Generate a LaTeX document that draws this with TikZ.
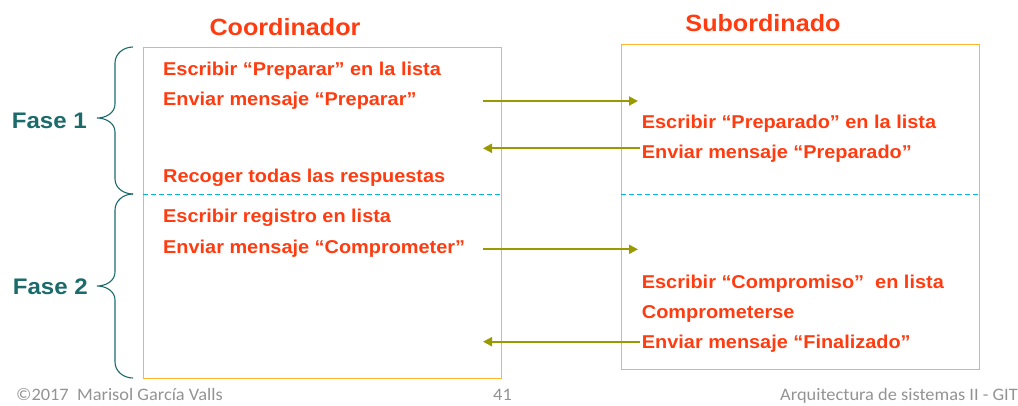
\documentclass[tikz,border=0pt]{standalone}
\usepackage{fontspec}
\setmainfont{Liberation Sans}[FakeStretch=1.07]
\newfontfamily\piefont{Carlito}[FakeStretch=1.05]
\usetikzlibrary{arrows.meta}

\definecolor{rojotxt}{HTML}{FF3B0F}
\definecolor{naranja}{HTML}{FFB52E}
\definecolor{cian}{HTML}{00B4E6}
\definecolor{oliva}{HTML}{999900}
\definecolor{verdeazul}{HTML}{1B6B6B}
\definecolor{gris}{HTML}{939393}

\tikzset{
  paso/.style={anchor=base west, inner sep=0pt, text=rojotxt, font=\fontsize{18.6}{20}\selectfont\bfseries},
  titulo/.style={anchor=base, inner sep=0pt, text=rojotxt, font=\fontsize{23.5}{26}\selectfont\bfseries},
  fasetxt/.style={anchor=base east, inner sep=0pt, text=verdeazul, font=\fontsize{22.5}{24}\selectfont\bfseries},
  pie/.style={anchor=base west, inner sep=0pt, text=gris, font=\piefont\fontsize{17.5}{18}\selectfont},
  caja/.style={draw=naranja, line width=0.9pt},
  corte/.style={draw=cian, line width=0.8pt, dash pattern=on 5pt off 3pt},
  msg/.style={draw=oliva, line width=2pt, -{Triangle[length=9pt,width=9pt]}},
  llave/.style={draw=verdeazul, line width=1.1pt}
}

\begin{document}
\begin{tikzpicture}[x=1pt, y=-1pt]
    \useasboundingbox (0,0) rectangle (1018,405);

    % Titles
    \node[titulo] (coord) at (285,35.3) {Coordinador};
    \node[titulo] (subord) at (763,31) {Subordinado};

    % The two boxes and the cut between phases
    \draw[caja] (143,47) rectangle (501,378);
    \draw[caja] (621,44) rectangle (979,369);
    \draw[corte] (143,194) -- (501,194);
    \draw[corte] (621,194) -- (979,194);

    % Coordinator steps
    \foreach \y/\nombre/\texto in {75/cEsc/{Escribir “Preparar” en la lista},
        105/cEnv/{Enviar mensaje “Preparar”},
        182.7/cRec/{Recoger todas las respuestas},
        222/cReg/{Escribir registro en lista},
        253.3/cCom/{Enviar mensaje “Comprometer”}} {
        \node[paso] (\nombre) at (163,\y) {\texto};
    }

    % Subordinate steps
    \foreach \y/\nombre/\texto in {128.3/sEsc/{Escribir “Preparado” en la lista},
        158.3/sEnv/{Enviar mensaje “Preparado”},
        288.3/sCmp/{Escribir “Compromiso”\ \ en lista},
        318.3/sCom/{Comprometerse},
        348.3/sFin/{Enviar mensaje “Finalizado”}} {
        \node[paso] (\nombre) at (641.7,\y) {\texto};
    }

    % Messages
    \coordinate (m1a) at (483,101);   \coordinate (m1b) at (638,101);
    \coordinate (m2a) at (640,148.3); \coordinate (m2b) at (483,148.3);
    \coordinate (m3a) at (483,249.3); \coordinate (m3b) at (638,249.3);
    \coordinate (m4a) at (640,341.7); \coordinate (m4b) at (483,341.7);
    \draw[msg] (m1a) -- (m1b);
    \draw[msg] (m2a) -- (m2b);
    \draw[msg] (m3a) -- (m3b);
    \draw[msg] (m4a) -- (m4b);

    % Braces for the phases
    \draw[llave] (133,47) to[out=180,in=90] (115,63) -- (115,104)
        to[out=-90,in=0] (97,118) to[out=0,in=90] (115,132) -- (115,179)
        to[out=-90,in=180] (133,194);
    \draw[llave] (133,194) to[out=180,in=90] (115,210) -- (115,272)
        to[out=-90,in=0] (97,286) to[out=0,in=90] (115,300) -- (115,362)
        to[out=-90,in=180] (133,378);
    \node[fasetxt] (fase1) at (87,128.3) {Fase 1};
    \node[fasetxt] (fase2) at (88,294) {Fase 2};

    % Footer
    \node[pie] (autor) at (16,400.3) {©2017\ \ Marisol García Valls};
    \node[pie] (pag) at (493,400.3) {41};
    \node[pie, anchor=base east] (asig) at (1018,400.3) {Arquitectura de sistemas II - GIT};
\end{tikzpicture}
\end{document}
